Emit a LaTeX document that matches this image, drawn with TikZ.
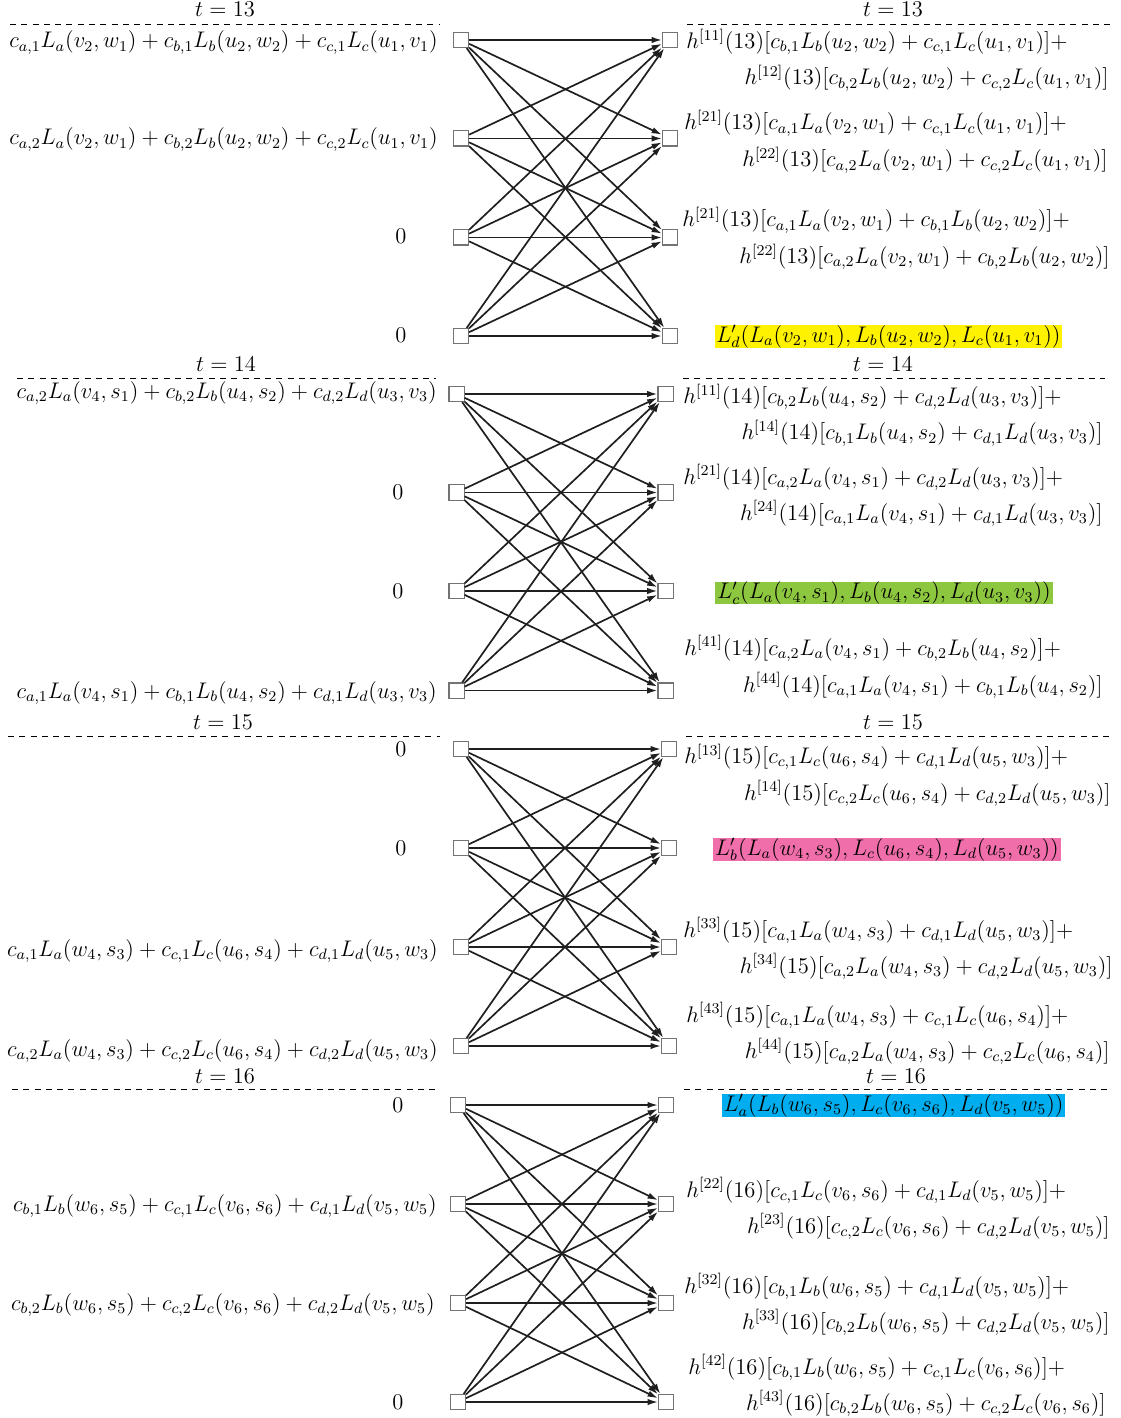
\documentclass[tikz,border=0pt]{standalone}
\usetikzlibrary{arrows.meta}
\definecolor{hlyellow}{HTML}{FFF200}
\definecolor{hlgreen}{HTML}{8DC63F}
\definecolor{hlpink}{HTML}{F06EAA}
\definecolor{hlcyan}{HTML}{00AEEF}
\begin{document}
\begin{tikzpicture}[x=0.532pt,y=-0.532pt,
  font=\fontsize{12}{14}\selectfont,
  box/.style={draw=black!55,fill=white,line width=0.55pt,minimum size=8pt,inner sep=0pt},
  arr/.style={draw=black!88,line width=0.9pt,-{Latex[length=5.5pt,width=3.4pt]}},
  sep/.style={dash pattern=on 3.2pt off 2.8pt,line width=0.5pt},
  tl/.style={anchor=base,inner sep=0pt},
  ll/.style={anchor=base east,inner sep=0pt},
  zl/.style={anchor=base,inner sep=0pt},
  ra/.style={anchor=base west,inner sep=0pt},
  rb/.style={anchor=base east,inner sep=0pt},
  hl/.style={inner xsep=1pt,inner ysep=0pt,text height=9pt,text depth=3pt}]
\useasboundingbox (0,0) rectangle (1120,1418);

%================ t = 13 =================
\node[tl] (b1tl) at (225,17) {$t=13$};
\node[tl] (b1tr) at (893,17) {$t=13$};
\draw[sep] (10,24) -- (440,24);
\draw[sep] (687,24) -- (1110,24);
\foreach \i/\y in {1/40,2/138.5,3/237.5,4/336}{
  \node[box] (b1l\i) at (461,\y) {};
  \node[box] (b1r\i) at (670,\y) {};
}
\foreach \i in {1,...,4}{\foreach \j in {1,...,4}{\draw[arr] (b1l\i) -- (b1r\j);}}
\node[ll] (b1a1) at (438,48) {$c_{a,1}L_a(v_2,w_1)+c_{b,1}L_b(u_2,w_2)+c_{c,1}L_c(u_1,v_1)$};
\node[ll] (b1a2) at (438,145) {$c_{a,2}L_a(v_2,w_1)+c_{b,2}L_b(u_2,w_2)+c_{c,2}L_c(u_1,v_1)$};
\node[zl] (b1a3) at (401,244) {$0$};
\node[zl] (b1a4) at (401,343) {$0$};
\node[ra] (b1h1a) at (686,48.5) {$h^{[11]}(13)[c_{b,1}L_b(u_2,w_2)+c_{c,1}L_c(u_1,v_1)]+$};
\node[rb] (b1h1b) at (1109,85) {$h^{[12]}(13)[c_{b,2}L_b(u_2,w_2)+c_{c,2}L_c(u_1,v_1)]$};
\node[ra] (b1h2a) at (684,130) {$h^{[21]}(13)[c_{a,1}L_a(v_2,w_1)+c_{c,1}L_c(u_1,v_1)]+$};
\node[rb] (b1h2b) at (1108,167) {$h^{[22]}(13)[c_{a,2}L_a(v_2,w_1)+c_{c,2}L_c(u_1,v_1)]$};
\node[ra] (b1h3a) at (682,227) {$h^{[21]}(13)[c_{a,1}L_a(v_2,w_1)+c_{b,1}L_b(u_2,w_2)]+$};
\node[rb] (b1h3b) at (1110,263.5) {$h^{[22]}(13)[c_{a,2}L_a(v_2,w_1)+c_{b,2}L_b(u_2,w_2)]$};
\node[hl,fill=hlyellow] (b1h4) at (888.5,336.5) {$L'_d(L_a(v_2,w_1),L_b(u_2,w_2),L_c(u_1,v_1))$};

%================ t = 14 =================
\node[tl] (b2tl) at (226,372) {$t=14$};
\node[tl] (b2tr) at (883,372) {$t=14$};
\draw[sep] (17,378) -- (436,378);
\draw[sep] (683,378) -- (1105,378);
\foreach \i/\y in {1/394,2/492.5,3/591,4/690.5}{
  \node[box] (b2l\i) at (456.5,\y) {};
  \node[box] (b2r\i) at (665.5,\y) {};
}
\foreach \i in {1,...,4}{\foreach \j in {1,...,4}{\draw[arr] (b2l\i) -- (b2r\j);}}
\node[ll] (b2a1) at (437,398.5) {$c_{a,2}L_a(v_4,s_1)+c_{b,2}L_b(u_4,s_2)+c_{d,2}L_d(u_3,v_3)$};
\node[zl] (b2a2) at (398,499) {$0$};
\node[zl] (b2a3) at (398,598) {$0$};
\node[ll] (b2a4) at (437,698) {$c_{a,1}L_a(v_4,s_1)+c_{b,1}L_b(u_4,s_2)+c_{d,1}L_d(u_3,v_3)$};
\node[ra] (b2h1a) at (683,403.5) {$h^{[11]}(14)[c_{b,2}L_b(u_4,s_2)+c_{d,2}L_d(u_3,v_3)]+$};
\node[rb] (b2h1b) at (1103,440) {$h^{[14]}(14)[c_{b,1}L_b(u_4,s_2)+c_{d,1}L_d(u_3,v_3)]$};
\node[ra] (b2h2a) at (683,484) {$h^{[21]}(14)[c_{a,2}L_a(v_4,s_1)+c_{d,2}L_d(u_3,v_3)]+$};
\node[rb] (b2h2b) at (1103,520) {$h^{[24]}(14)[c_{a,1}L_a(v_4,s_1)+c_{d,1}L_d(u_3,v_3)]$};
\node[hl,fill=hlgreen] (b2h3) at (884,593) {$L'_c(L_a(v_4,s_1),L_b(u_4,s_2),L_d(u_3,v_3))$};
\node[ra] (b2h4a) at (684,655) {$h^{[41]}(14)[c_{a,2}L_a(v_4,s_1)+c_{b,2}L_b(u_4,s_2)]+$};
\node[rb] (b2h4b) at (1103,692) {$h^{[44]}(14)[c_{a,1}L_a(v_4,s_1)+c_{b,1}L_b(u_4,s_2)]$};

%================ t = 15 =================
\node[tl] (b3tl) at (223,729) {$t=15$};
\node[tl] (b3tr) at (893,729) {$t=15$};
\draw[sep] (8,736) -- (440,736);
\draw[sep] (686,736) -- (1110,736);
\foreach \i/\y in {1/749,2/848,3/947,4/1046}{
  \node[box] (b3l\i) at (461,\y) {};
  \node[box] (b3r\i) at (669,\y) {};
}
\foreach \i in {1,...,4}{\foreach \j in {1,...,4}{\draw[arr] (b3l\i) -- (b3r\j);}}
\node[zl] (b3a1) at (401,756) {$0$};
\node[zl] (b3a2) at (401,855) {$0$};
\node[ll] (b3a3) at (438,956) {$c_{a,1}L_a(w_4,s_3)+c_{c,1}L_c(u_6,s_4)+c_{d,1}L_d(u_5,w_3)$};
\node[ll] (b3a4) at (438,1056) {$c_{a,2}L_a(w_4,s_3)+c_{c,2}L_c(u_6,s_4)+c_{d,2}L_d(u_5,w_3)$};
\node[ra] (b3h1a) at (684,763.5) {$h^{[13]}(15)[c_{c,1}L_c(u_6,s_4)+c_{d,1}L_d(u_5,w_3)]+$};
\node[rb] (b3h1b) at (1111,800) {$h^{[14]}(15)[c_{c,2}L_c(u_6,s_4)+c_{d,2}L_d(u_5,w_3)]$};
\node[hl,fill=hlpink] (b3h2) at (887,849.5) {$L'_b(L_a(w_4,s_3),L_c(u_6,s_4),L_d(u_5,w_3))$};
\node[ra] (b3h3a) at (683,937) {$h^{[33]}(15)[c_{a,1}L_a(w_4,s_3)+c_{d,1}L_d(u_5,w_3)]+$};
\node[rb] (b3h3b) at (1113,973) {$h^{[34]}(15)[c_{a,2}L_a(w_4,s_3)+c_{d,2}L_d(u_5,w_3)]$};
\node[ra] (b3h4a) at (686,1022) {$h^{[43]}(15)[c_{a,1}L_a(w_4,s_3)+c_{c,1}L_c(u_6,s_4)]+$};
\node[rb] (b3h4b) at (1110,1058) {$h^{[44]}(15)[c_{a,2}L_a(w_4,s_3)+c_{c,2}L_c(u_6,s_4)]$};

%================ t = 16 =================
\node[tl] (b4tl) at (225,1083) {$t=16$};
\node[tl] (b4tr) at (896,1083) {$t=16$};
\draw[sep] (12,1089) -- (437,1089);
\draw[sep] (684,1089) -- (1108,1089);
\foreach \i/\y in {1/1105,2/1204,3/1303,4/1402}{
  \node[box] (b4l\i) at (458,\y) {};
  \node[box] (b4r\i) at (666,\y) {};
}
\foreach \i in {1,...,4}{\foreach \j in {1,...,4}{\draw[arr] (b4l\i) -- (b4r\j);}}
\node[zl] (b4a1) at (398,1112) {$0$};
\node[ll] (b4a2) at (437,1211) {$c_{b,1}L_b(w_6,s_5)+c_{c,1}L_c(v_6,s_6)+c_{d,1}L_d(v_5,w_5)$};
\node[ll] (b4a3) at (435,1310) {$c_{b,2}L_b(w_6,s_5)+c_{c,2}L_c(v_6,s_6)+c_{d,2}L_d(v_5,w_5)$};
\node[zl] (b4a4) at (398,1409) {$0$};
\node[hl,fill=hlcyan] (b4h1) at (893.5,1105.5) {$L'_a(L_b(w_6,s_5),L_c(v_6,s_6),L_d(v_5,w_5))$};
\node[ra] (b4h2a) at (686,1197) {$h^{[22]}(16)[c_{c,1}L_c(v_6,s_6)+c_{d,1}L_d(v_5,w_5)]+$};
\node[rb] (b4h2b) at (1110,1233) {$h^{[23]}(16)[c_{c,2}L_c(v_6,s_6)+c_{d,2}L_d(v_5,w_5)]$};
\node[ra] (b4h3a) at (684,1293) {$h^{[32]}(16)[c_{b,1}L_b(w_6,s_5)+c_{d,1}L_d(v_5,w_5)]+$};
\node[rb] (b4h3b) at (1110,1329) {$h^{[33]}(16)[c_{b,2}L_b(w_6,s_5)+c_{d,2}L_d(v_5,w_5)]$};
\node[ra] (b4h4a) at (688,1374) {$h^{[42]}(16)[c_{b,1}L_b(w_6,s_5)+c_{c,1}L_c(v_6,s_6)]+$};
\node[rb] (b4h4b) at (1106,1410) {$h^{[43]}(16)[c_{b,2}L_b(w_6,s_5)+c_{c,2}L_c(v_6,s_6)]$};
\end{tikzpicture}
\end{document}
